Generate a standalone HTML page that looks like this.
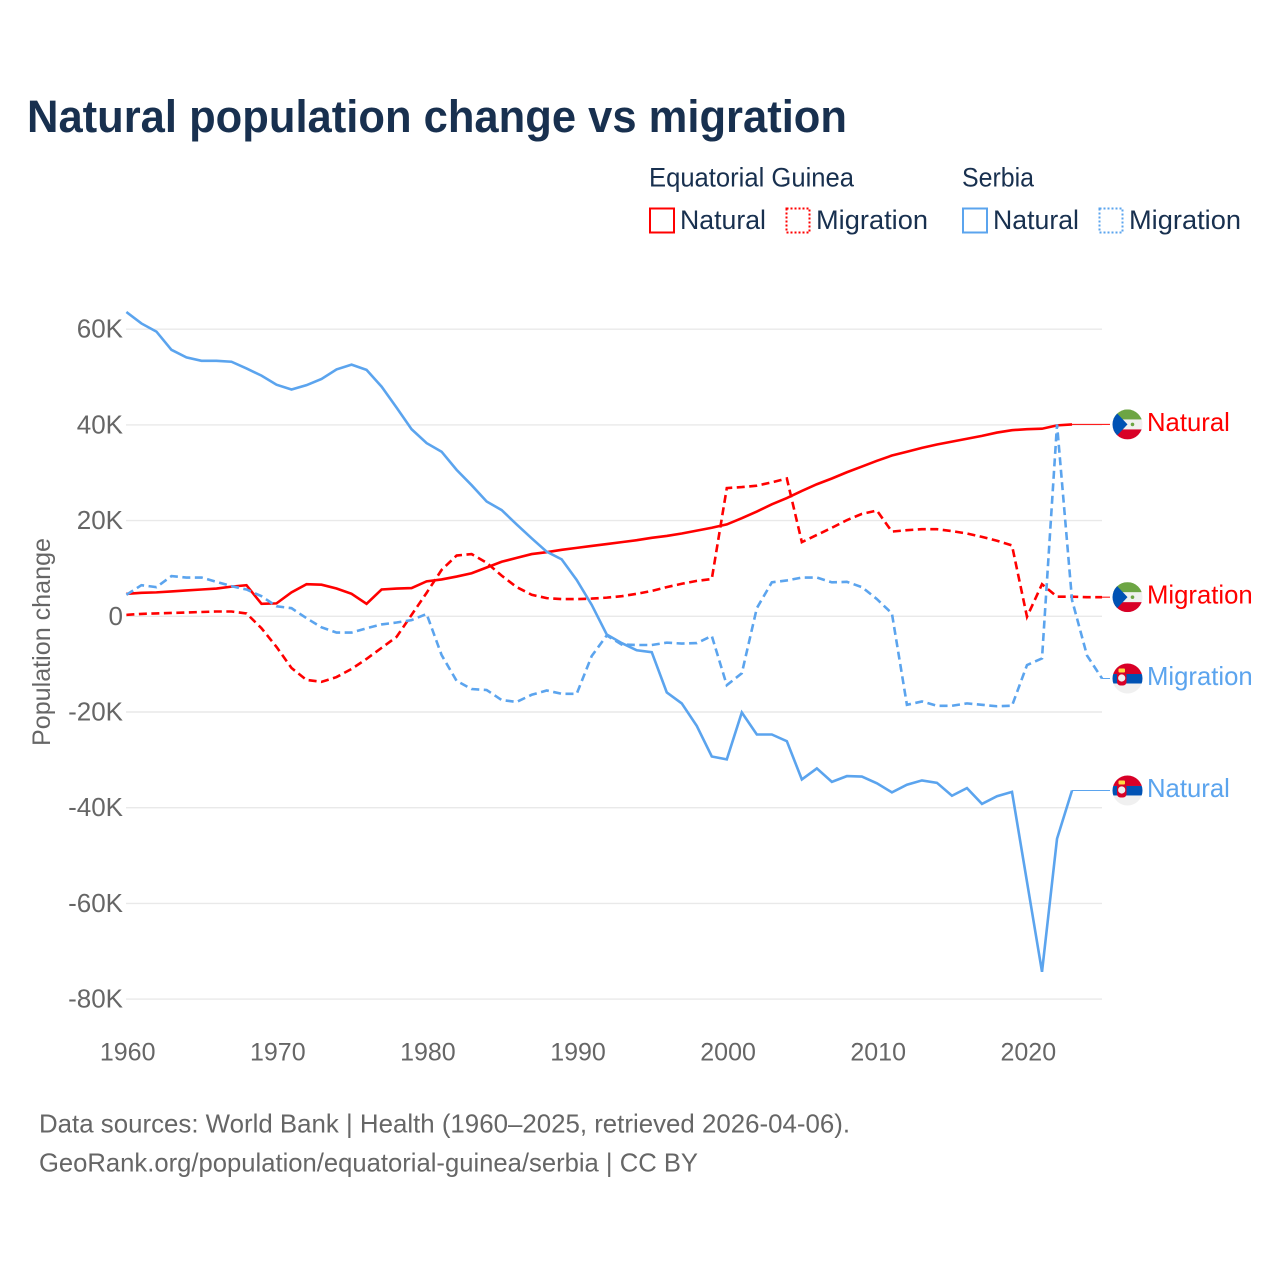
<!DOCTYPE html>
<html lang="en">
<head>
<meta charset="utf-8">
<title>Natural population change vs migration</title>
<style>
html,body{margin:0;padding:0;background:#fff;width:1280px;height:1280px;overflow:hidden}
svg{display:block;font-family:"Liberation Sans",sans-serif}
</style>
</head>
<body>
<svg id="chart" xmlns="http://www.w3.org/2000/svg" width="1280" height="1280" viewBox="0 0 1280 1280">
  <rect width="1280" height="1280" fill="#fff"/>
  <text x="27" y="132" font-size="45" font-weight="700" fill="#18304f" textLength="820" lengthAdjust="spacingAndGlyphs">Natural population change vs migration</text>

  <g font-size="26.5" fill="#18304f">
    <text x="649" y="186.5" textLength="205" lengthAdjust="spacingAndGlyphs">Equatorial Guinea</text>
    <text x="962" y="186.5" textLength="72" lengthAdjust="spacingAndGlyphs">Serbia</text>
    <rect x="650" y="208.5" width="24" height="24" fill="none" stroke="#ff0000" stroke-width="2"/>
    <text x="680" y="229" textLength="86" lengthAdjust="spacingAndGlyphs">Natural</text>
    <rect x="786.5" y="208.5" width="23" height="24" fill="none" stroke="#ff0000" stroke-width="2" stroke-dasharray="2 2"/>
    <text x="816" y="229" textLength="112" lengthAdjust="spacingAndGlyphs">Migration</text>
    <rect x="963" y="208.5" width="24" height="24" fill="none" stroke="#5ba4ee" stroke-width="2"/>
    <text x="993" y="229" textLength="86" lengthAdjust="spacingAndGlyphs">Natural</text>
    <rect x="1099.5" y="208.5" width="23" height="24" fill="none" stroke="#5ba4ee" stroke-width="2" stroke-dasharray="2 2"/>
    <text x="1129" y="229" textLength="112" lengthAdjust="spacingAndGlyphs">Migration</text>
  </g>

  <g id="grid"></g>
  <g id="yticks" font-size="26" fill="#666" text-anchor="end"></g>
  <g id="xticks" font-size="25" fill="#666" text-anchor="middle"></g>
  <text transform="translate(50 642) rotate(-90)" font-size="25" fill="#666" text-anchor="middle" textLength="208" lengthAdjust="spacingAndGlyphs">Population change</text>
  <g id="series"></g>
  <g id="endlabels"></g>

  <g font-size="26" fill="#666">
    <text x="39" y="1132.5" textLength="811" lengthAdjust="spacingAndGlyphs">Data sources: World Bank | Health (1960–2025, retrieved 2026-04-06).</text>
    <text x="39" y="1171.5" textLength="659" lengthAdjust="spacingAndGlyphs">GeoRank.org/population/equatorial-guinea/serbia | CC BY</text>
  </g>
</svg>

<script>
const years = [1960,1961,1962,1963,1964,1965,1966,1967,1968,1969,1970,1971,1972,1973,1974,1975,1976,1977,1978,1979,1980,1981,1982,1983,1984,1985,1986,1987,1988,1989,1990,1991,1992,1993,1994,1995,1996,1997,1998,1999,2000,2001,2002,2003,2004,2005,2006,2007,2008,2009,2010,2011,2012,2013,2014,2015,2016,2017,2018,2019,2020,2021,2022,2023,2024,2025];
const yTickValues = [60,40,20,0,-20,-40,-60,-80];
const xTickValues = [1960,1970,1980,1990,2000,2010,2020];

const egNatural = [4.7,4.9,5.0,5.2,5.4,5.6,5.8,6.2,6.5,2.6,2.7,5.0,6.7,6.6,5.8,4.7,2.6,5.6,5.8,5.9,7.3,7.7,8.3,9.0,10.2,11.4,12.2,13.0,13.4,13.9,14.3,14.7,15.1,15.5,15.9,16.4,16.8,17.3,17.9,18.5,19.2,20.5,21.9,23.4,24.7,26.2,27.6,28.8,30.1,31.3,32.5,33.6,34.4,35.2,35.9,36.5,37.1,37.7,38.4,38.9,39.1,39.2,39.9,40.1];
const egMigration = [0.3,0.5,0.6,0.7,0.8,0.9,1.0,1.0,0.6,-2.5,-6.4,-10.8,-13.3,-13.7,-12.7,-11.0,-8.9,-6.6,-4.3,0.3,4.9,9.7,12.7,13.0,11.2,8.5,6.1,4.5,3.8,3.6,3.6,3.7,3.9,4.2,4.7,5.3,6.1,6.8,7.4,7.8,26.8,27.0,27.3,28.0,28.8,15.5,17.0,18.5,20.1,21.4,22.1,17.7,18.0,18.2,18.2,17.8,17.3,16.6,15.8,14.8,-0.1,6.7,4.1,4.1,4.0,4.0];
const rsNatural = [63.6,61.2,59.5,55.7,54.1,53.4,53.4,53.2,51.8,50.3,48.4,47.4,48.3,49.6,51.6,52.6,51.5,48.0,43.6,39.1,36.2,34.4,30.6,27.4,24.0,22.2,19.2,16.3,13.5,11.9,7.6,2.4,-3.8,-5.6,-7.1,-7.5,-15.9,-18.2,-22.9,-29.3,-29.9,-20.1,-24.7,-24.7,-26.1,-34.1,-31.8,-34.6,-33.4,-33.5,-34.9,-36.8,-35.2,-34.3,-34.8,-37.5,-35.9,-39.2,-37.6,-36.7,-55.5,-74.3,-46.5,-36.4];
const rsMigration = [4.5,6.5,6.1,8.4,8.1,8.1,7.2,6.3,5.6,4.2,2.1,1.7,-0.4,-2.3,-3.4,-3.4,-2.5,-1.7,-1.3,-0.8,0.5,-8.1,-13.5,-15.2,-15.4,-17.5,-17.9,-16.4,-15.5,-16.2,-16.2,-8.3,-4.0,-5.9,-6.0,-6.0,-5.5,-5.7,-5.6,-4.1,-14.4,-11.9,1.7,7.1,7.5,8.1,8.1,7.1,7.2,6.1,3.6,0.6,-18.5,-17.8,-18.7,-18.7,-18.2,-18.5,-18.8,-18.7,-10.2,-8.8,40.1,3.4,-8.2,-13.0];

const NS = 'http://www.w3.org/2000/svg';
const RED = '#ff0000';
const BLUE = '#5ba4ee';
function x(year){ return 126.4 + (year - 1960) * 15.01; }
function y(k){ return 616.3 - k * 4.785; }
function make(tag, attrs, parent){
  const el = document.createElementNS(NS, tag);
  for (const key in attrs) el.setAttribute(key, attrs[key]);
  parent.appendChild(el);
  return el;
}
function tickLabel(k){ return k === 0 ? '0' : k + 'K'; }

const gridG = document.getElementById('grid');
const yG = document.getElementById('yticks');
yTickValues.forEach(function(k){
  const line = make('line', {x1:126, x2:1102, y1:y(k), y2:y(k), stroke:'#e9e9e9', 'stroke-width':1.4}, gridG);
  
  
  const t = make('text', {x:123, y:y(k) + 8.5}, yG);
  t.textContent = tickLabel(k);
  
  
});

const xG = document.getElementById('xticks');
xTickValues.forEach(function(yr){
  const t = make('text', {x:x(yr) + 1.3, y:1060.5}, xG);
  t.textContent = String(yr);
  
  
});

const seriesG = document.getElementById('series');
function drawSeries(values, color, dashed){
  const pts = values.map(function(v, i){ return x(years[i]).toFixed(2) + ',' + y(v).toFixed(2); }).join(' ');
  const attrs = {points:pts, fill:'none', stroke:color, 'stroke-width':2.6, 'stroke-linejoin':'miter'};
  if (dashed) attrs['stroke-dasharray'] = '8 4.5';
  return make('polyline', attrs, seriesG);
}
const lineEgNatural = drawSeries(egNatural, RED, false);


const lineEgMigration = drawSeries(egMigration, RED, true);


const lineRsNatural = drawSeries(rsNatural, BLUE, false);


const lineRsMigration = drawSeries(rsMigration, BLUE, true);



const labelG = document.getElementById('endlabels');
let clipCount = 0;
function drawEnd(values, color, text, country){
  const lastYear = years[values.length - 1];
  const py = y(values[values.length - 1]);
  const g = make('g', {}, labelG);
  make('line', {x1:x(lastYear), y1:py, x2:1110, y2:py, stroke:color, 'stroke-width':1}, g);
  const cx = 1127.5;
  const id = 'flagclip' + (clipCount++);
  const clip = make('clipPath', {id:id}, g);
  make('circle', {cx:cx, cy:py, r:15}, clip);
  const f = make('g', {'clip-path':'url(#' + id + ')'}, g);
  const L = cx - 15, T = py - 15;
  if (country === 'eg') {
    make('rect', {x:L, y:T, width:30, height:30, fill:'#f0f0f0'}, f);
    make('rect', {x:L, y:T, width:30, height:10, fill:'#6da544'}, f);
    make('rect', {x:L, y:T + 20, width:30, height:10, fill:'#d80027'}, f);
    make('polygon', {points:L + ',' + (T - 1) + ' ' + (L + 15) + ',' + py + ' ' + L + ',' + (T + 31), fill:'#0052b4'}, f);
    make('circle', {cx:L + 20, cy:py, r:1.8, fill:'#6da544'}, f);
  } else {
    make('rect', {x:L, y:T, width:30, height:30, fill:'#f0f0f0'}, f);
    make('rect', {x:L, y:T, width:30, height:10.5, fill:'#d80027'}, f);
    make('rect', {x:L, y:T + 10.5, width:30, height:9.5, fill:'#0052b4'}, f);
    make('rect', {x:L + 4.5, y:T + 8, width:9.5, height:14, rx:3.5, fill:'#d80027'}, f);
    make('rect', {x:L + 6, y:T + 5, width:6.5, height:4, rx:1, fill:'#ffda44'}, f);
    make('circle', {cx:L + 9.2, cy:T + 14.5, r:3.6, fill:'#f0f0f0'}, f);
  }
  const t = make('text', {x:1147, y:py + 6.5, 'font-size':25.7, fill:color}, g);
  t.textContent = text;
  return {group:g, flag:f, label:t};
}

const endEgNatural = drawEnd(egNatural, RED, 'Natural', 'eg');




const endEgMigration = drawEnd(egMigration, RED, 'Migration', 'eg');




const endRsMigration = drawEnd(rsMigration, BLUE, 'Migration', 'rs');




const endRsNatural = drawEnd(rsNatural, BLUE, 'Natural', 'rs');




</script>
</body>
</html>
